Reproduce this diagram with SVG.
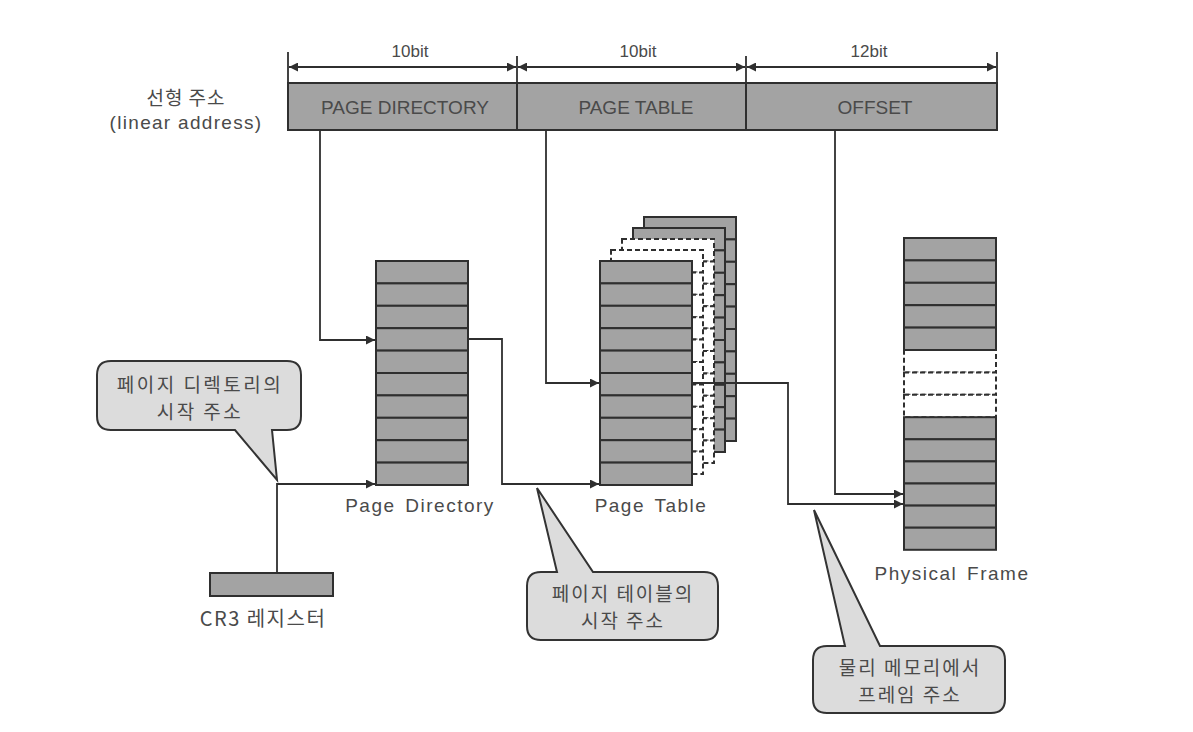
<svg xmlns="http://www.w3.org/2000/svg" xmlns:xlink="http://www.w3.org/1999/xlink" width="1193" height="732" viewBox="0 0 1193 732">
<style>
  .t { font-family: "Liberation Sans", "Noto Sans CJK KR", sans-serif; fill: #4a4a4a; }
  .k { font-family: "Noto Sans CJK KR", "Liberation Sans", sans-serif; fill: #4a4a4a; }
  .box { fill: #a3a3a3; stroke: #2f2f2f; stroke-width: 2; }
  .gray { fill: #a3a3a3; stroke: #2f2f2f; stroke-width: 2; }
  .dash { fill: #ffffff; stroke: #2f2f2f; stroke-width: 2; stroke-dasharray: 5 3; }
  .ln { fill: none; stroke: #2f2f2f; stroke-width: 1.8; }
  .callout { fill: #dcdcdc; stroke: #333333; stroke-width: 2; }
</style>
<defs>
  <marker id="ah" viewBox="0 0 10 10" refX="10" refY="5" markerWidth="9" markerHeight="9" markerUnits="userSpaceOnUse" orient="auto-start-reverse">
    <path d="M0,0 L10,5 L0,10 Z" fill="#2f2f2f"/>
  </marker>
  <g id="tbl">
    <rect x="0" y="0" width="92" height="22.4"/>
    <rect x="0" y="22.4" width="92" height="22.4"/>
    <rect x="0" y="44.8" width="92" height="22.4"/>
    <rect x="0" y="67.2" width="92" height="22.4"/>
    <rect x="0" y="89.6" width="92" height="22.4"/>
    <rect x="0" y="112" width="92" height="22.4"/>
    <rect x="0" y="134.4" width="92" height="22.4"/>
    <rect x="0" y="156.8" width="92" height="22.4"/>
    <rect x="0" y="179.2" width="92" height="22.4"/>
    <rect x="0" y="201.6" width="92" height="22.4"/>
  </g>
</defs>
<rect width="1193" height="732" fill="#ffffff"/>

<g id="linear-address">
  <rect class="box" x="288" y="83" width="229" height="47"/>
  <rect class="box" x="517" y="83" width="229" height="47"/>
  <rect class="box" x="746" y="83" width="251" height="47"/>
  <text class="t" x="405" y="114" font-size="19" text-anchor="middle">PAGE DIRECTORY</text>
  <text class="t" x="636" y="114" font-size="19" text-anchor="middle">PAGE TABLE</text>
  <text class="t" x="875" y="114" font-size="19" text-anchor="middle">OFFSET</text>
  <text class="k" x="186" y="105" font-size="19" letter-spacing="1" text-anchor="middle">선형 주소</text>
  <text class="t" x="186" y="129" font-size="19" letter-spacing="1.3" text-anchor="middle">(linear address)</text>
</g>

<g id="bit-widths">
  <line class="ln" x1="288" y1="52" x2="288" y2="83"/>
  <line class="ln" x1="517" y1="56" x2="517" y2="83"/>
  <line class="ln" x1="746" y1="56" x2="746" y2="83"/>
  <line class="ln" x1="997" y1="52" x2="997" y2="83"/>
  <line class="ln" x1="289" y1="67" x2="516" y2="67" marker-start="url(#ah)" marker-end="url(#ah)"/>
  <line class="ln" x1="518" y1="67" x2="745" y2="67" marker-start="url(#ah)" marker-end="url(#ah)"/>
  <line class="ln" x1="747" y1="67" x2="996" y2="67" marker-start="url(#ah)" marker-end="url(#ah)"/>
  <text class="t" x="410" y="57" font-size="17" text-anchor="middle">10bit</text>
  <text class="t" x="638" y="57" font-size="17" text-anchor="middle">10bit</text>
  <text class="t" x="869" y="57" font-size="17" text-anchor="middle">12bit</text>
</g>

<g id="page-directory">
  <use xlink:href="#tbl" x="376" y="261" class="gray"/>
  <text class="t" x="420" y="512" font-size="19" letter-spacing="1.5" word-spacing="3" text-anchor="middle">Page Directory</text>
</g>

<g id="page-table">
  <use xlink:href="#tbl" x="644" y="217" class="gray"/>
  <use xlink:href="#tbl" x="633" y="228" class="gray"/>
  <use xlink:href="#tbl" x="622" y="239" class="dash"/>
  <use xlink:href="#tbl" x="611" y="250" class="dash"/>
  <use xlink:href="#tbl" x="600" y="261" class="gray"/>
  <text class="t" x="651" y="512" font-size="19" letter-spacing="1.5" word-spacing="3" text-anchor="middle">Page Table</text>
</g>

<g id="physical-frame">
  <rect class="dash" x="904" y="350" width="92" height="22.4"/>
  <rect class="dash" x="904" y="372.4" width="92" height="22.4"/>
  <rect class="dash" x="904" y="394.8" width="92" height="22.4"/>
  <rect class="gray" x="904" y="238" width="92" height="22.4"/>
  <rect class="gray" x="904" y="260.4" width="92" height="22.4"/>
  <rect class="gray" x="904" y="282.8" width="92" height="22.4"/>
  <rect class="gray" x="904" y="305.2" width="92" height="22.4"/>
  <rect class="gray" x="904" y="327.6" width="92" height="22.4"/>
  <rect class="gray" x="904" y="417.2" width="92" height="22.1"/>
  <rect class="gray" x="904" y="439.3" width="92" height="22.1"/>
  <rect class="gray" x="904" y="461.4" width="92" height="22.1"/>
  <rect class="gray" x="904" y="483.5" width="92" height="22.1"/>
  <rect class="gray" x="904" y="505.6" width="92" height="22.1"/>
  <rect class="gray" x="904" y="527.7" width="92" height="22.1"/>
  <text class="t" x="952" y="580" font-size="19" letter-spacing="1.5" word-spacing="3" text-anchor="middle">Physical Frame</text>
</g>

<g id="cr3">
  <rect class="gray" x="210" y="573" width="123" height="23"/>
  <text class="k" x="263" y="626" font-size="20" letter-spacing="1.5" text-anchor="middle">CR3 레지스터</text>
</g>

<g id="connectors">
  <path class="ln" d="M320,130 V340 H375" marker-end="url(#ah)"/>
  <path class="ln" d="M546,130 V383 H599" marker-end="url(#ah)"/>
  <path class="ln" d="M835,130 V494 H903" marker-end="url(#ah)"/>
  <path class="ln" d="M277,573 V484 H375" marker-end="url(#ah)"/>
  <path class="ln" d="M468,339 H502 V484 H599" marker-end="url(#ah)"/>
  <path class="ln" d="M692,383 H788 V504 H903" marker-end="url(#ah)"/>
</g>

<g id="callout-pd">
  <path class="callout" d="M111,361 H287 Q301,361 301,375 V416 Q301,430 287,430 H272 L277,480 L235,430 H111 Q97,430 97,416 V375 Q97,361 111,361 Z"/>
  <text class="k" x="200" y="392" font-size="19" letter-spacing="2.5" text-anchor="middle">페이지 디렉토리의</text>
  <text class="k" x="200" y="419" font-size="19" letter-spacing="2.5" text-anchor="middle">시작 주소</text>
</g>

<g id="callout-pt">
  <path class="callout" d="M541,572 H557 L537,488 L593,572 H704 Q718,572 718,586 V626 Q718,640 704,640 H541 Q527,640 527,626 V586 Q527,572 541,572 Z"/>
  <text class="k" x="623" y="601" font-size="19" letter-spacing="2" text-anchor="middle">페이지 테이블의</text>
  <text class="k" x="623" y="628" font-size="19" letter-spacing="2" text-anchor="middle">시작 주소</text>
</g>

<g id="callout-pf">
  <path class="callout" d="M827,646 H845 L814,510 L880,646 H991 Q1005,646 1005,660 V699 Q1005,713 991,713 H827 Q813,713 813,699 V660 Q813,646 827,646 Z"/>
  <text class="k" x="910" y="675" font-size="19" letter-spacing="2" text-anchor="middle">물리 메모리에서</text>
  <text class="k" x="910" y="702" font-size="19" letter-spacing="2" text-anchor="middle">프레임 주소</text>
</g>
</svg>
